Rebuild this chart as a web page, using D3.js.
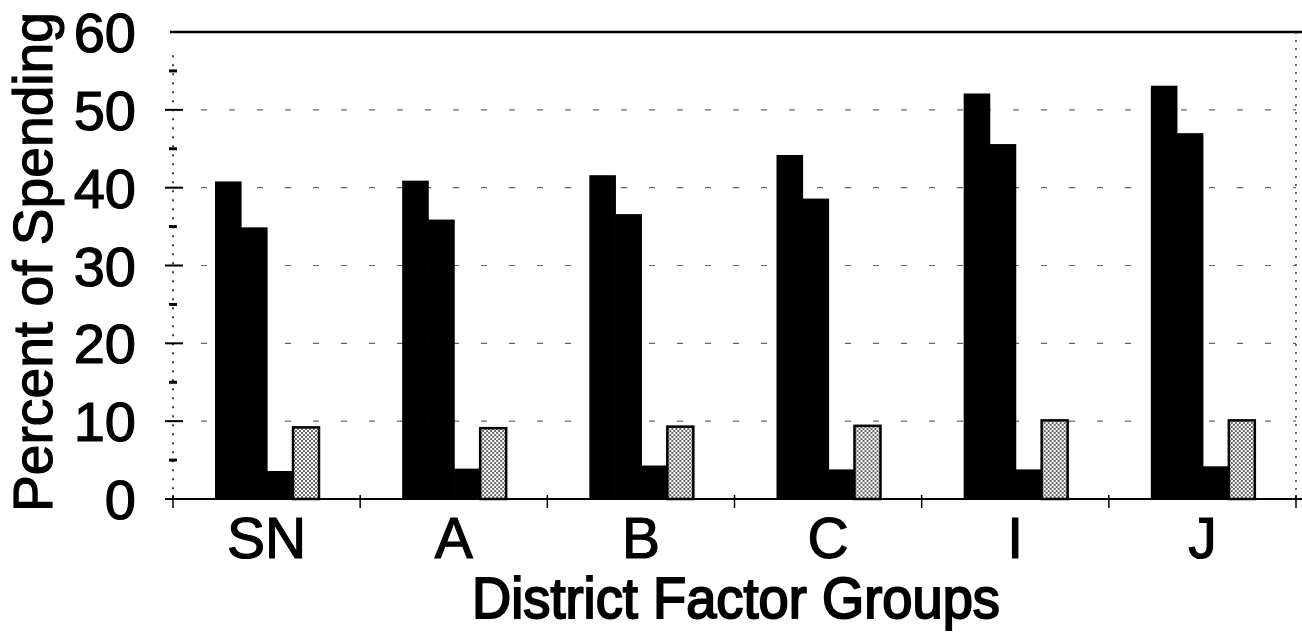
<!DOCTYPE html>
<html>
<head>
<meta charset="utf-8">
<script src="https://cdn.jsdelivr.net/npm/d3@7"></script>
<style>
  body { margin: 0; background: #fff; }
  text { font-family: "Liberation Sans", Arial, sans-serif; fill: #000; stroke: #000; stroke-width: 1.2; }
</style>
</head>
<body>
<svg width="1302" height="632"></svg>
<script>
let svg = d3.select("svg");

// data
let groups = ["SN", "A", "B", "C", "I", "J"];
let series = ["s1", "s2", "s3", "s4"];
let s1 = [40.8, 40.9, 41.6, 44.2, 52.1, 53.1];
let s2 = [34.9, 35.9, 36.6, 38.6, 45.6, 47.0];
let s3 = [3.6, 3.9, 4.3, 3.8, 3.8, 4.2];
let s4 = [9.2, 9.1, 9.3, 9.4, 10.1, 10.1];
let yTicks = [0, 10, 20, 30, 40, 50, 60];
let yMinor = [5, 15, 25, 35, 45, 55];
let gridVals = [10, 20, 30, 40, 50];

let pLeft = 173, pRight = 1296, pTop = 32, pBottom = 499;

let x0 = d3.scaleBand().domain(groups).range([pLeft, pRight]);
let x1 = d3.scaleBand().domain(series).range([42, 146]);
let y = d3.scaleLinear().domain([0, 60]).range([pBottom, pTop]);

// dotted fill for the last bar
let defs = svg.append("defs");
let pat = defs.append("pattern")
    .attr("id", "dots")
    .attr("width", 4).attr("height", 4)
    .attr("patternUnits", "userSpaceOnUse");
pat.append("rect").attr("width", 4).attr("height", 4).attr("fill", "#fff");
pat.append("circle").attr("cx", 1).attr("cy", 1).attr("r", 1.1).attr("fill", "#555");
pat.append("circle").attr("cx", 3).attr("cy", 3).attr("r", 1.1).attr("fill", "#555");

// dashed gridlines (faint in the scan)
svg.append("g").selectAll("line")
    .data(gridVals).join("line")
    .attr("x1", pLeft).attr("x2", pRight)
    .attr("y1", d => y(d)).attr("y2", d => y(d))
    .attr("stroke", "#666").attr("stroke-width", 1.2)
    .attr("stroke-dasharray", "6,22");

// top line at 60
svg.append("line")
    .attr("x1", 170).attr("x2", 1302)
    .attr("y1", y(60)).attr("y2", y(60))
    .attr("stroke", "#000").attr("stroke-width", 2.5);

// right dotted border
svg.append("line")
    .attr("x1", pRight).attr("x2", pRight)
    .attr("y1", y(60)).attr("y2", pBottom)
    .attr("stroke", "#333").attr("stroke-width", 1.5)
    .attr("stroke-dasharray", "2,6");

// bars
let table = groups.map((g, i) => ({g: g, vals: [s1[i], s2[i], s3[i], s4[i]]}));
let gsel = svg.append("g").selectAll("g")
    .data(table).join("g")
    .attr("transform", d => `translate(${x0(d.g)},0)`);

gsel.selectAll("rect")
    .data(d => d.vals.map((v, j) => ({k: series[j], v: v})))
    .join("rect")
    .attr("x", d => x1(d.k))
    .attr("y", d => y(d.v))
    .attr("width", d => d.k === "s4" ? x1.bandwidth() : x1.bandwidth() + 0.6)
    .attr("height", d => pBottom - y(d.v))
    .attr("fill", d => d.k === "s4" ? "url(#dots)" : "#000")
    .attr("stroke", "#000")
    .attr("stroke-width", d => d.k === "s4" ? 2.5 : 0);

// y axis (dotted line with ticks)
svg.append("line")
    .attr("x1", pLeft).attr("x2", pLeft)
    .attr("y1", y(57)).attr("y2", pBottom + 6)
    .attr("stroke", "#000").attr("stroke-width", 1.5)
    .attr("stroke-dasharray", "2,7");
svg.append("g").selectAll("line")
    .data(yTicks.filter(d => d < 60)).join("line")
    .attr("x1", pLeft - 8).attr("x2", pLeft + 10)
    .attr("y1", d => y(d)).attr("y2", d => y(d))
    .attr("stroke", "#000").attr("stroke-width", 2);
svg.append("g").selectAll("line")
    .data(yMinor).join("line")
    .attr("x1", pLeft - 4).attr("x2", pLeft + 4)
    .attr("y1", d => y(d)).attr("y2", d => y(d))
    .attr("stroke", "#000").attr("stroke-width", 3);

svg.append("g").selectAll("text")
    .data(yTicks).join("text")
    .attr("x", 136)
    .attr("y", d => y(d) + 20)
    .attr("text-anchor", "end")
    .style("font-size", "56px")
    .text(d => d);

// x axis
svg.append("line")
    .attr("x1", 165).attr("x2", 1302)
    .attr("y1", pBottom).attr("y2", pBottom)
    .attr("stroke", "#000").attr("stroke-width", 2);
let bounds = groups.map(g => x0(g)).concat([pRight]);
svg.append("g").selectAll("line")
    .data(bounds).join("line")
    .attr("x1", d => d).attr("x2", d => d)
    .attr("y1", pBottom - 4).attr("y2", pBottom + 9)
    .attr("stroke", "#000").attr("stroke-width", 1.5);

svg.append("g").selectAll("text")
    .data(groups).join("text")
    .attr("x", d => x0(d) + x0.bandwidth() / 2)
    .attr("y", 558)
    .attr("text-anchor", "middle")
    .style("font-size", "57px")
    .text(d => d);

// axis titles
svg.append("text")
    .attr("x", 736)
    .attr("y", 618)
    .attr("text-anchor", "middle")
    .attr("textLength", 528)
    .attr("lengthAdjust", "spacingAndGlyphs")
    .style("font-size", "57px")
    .style("stroke-width", 2)
    .text("District Factor Groups");

svg.append("text")
    .attr("transform", "translate(52,262) rotate(-90)")
    .attr("text-anchor", "middle")
    .attr("textLength", 500)
    .attr("lengthAdjust", "spacingAndGlyphs")
    .style("font-size", "56px")
    .text("Percent of Spending");
</script>
</body>
</html>
